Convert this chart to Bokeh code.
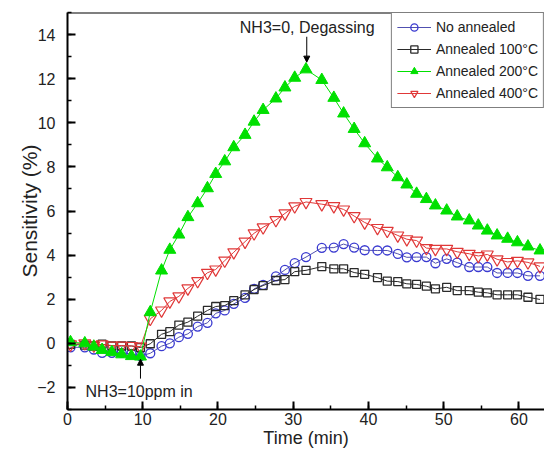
from bokeh.plotting import figure
from bokeh.models import (Range1d, SingleIntervalTicker, Legend, LegendItem, Label,
                          Arrow, NormalHead, Span)
from bokeh.embed import file_html
from bokeh.resources import INLINE

# ---- data ----
time = [0.4, 2.3, 3.5, 4.6, 5.9, 7.2, 8.5, 9.7, 11.0, 12.5, 13.6, 14.8, 16.0, 17.3,
        18.6, 19.7, 20.9, 22.1, 23.6, 24.8, 26.0, 27.7, 28.9, 30.2, 31.7, 33.8, 35.4,
        36.7, 38.1, 39.5, 41.2, 42.5, 43.9, 45.1, 46.4, 47.7, 48.9, 50.4, 51.8, 53.4,
        54.6, 55.8, 57.1, 58.5, 59.8, 61.2, 62.8]
no_annealed = [-0.18, -0.18, -0.28, -0.43, -0.43, -0.43, -0.48, -0.58, -0.45, -0.13,
               0.0, 0.28, 0.43, 0.76, 0.93, 1.36, 1.49, 1.79, 2.06, 2.47, 2.65, 3.04,
               3.33, 3.64, 3.91, 4.33, 4.34, 4.50, 4.34, 4.22, 4.21, 4.21, 4.06, 3.90,
               3.91, 3.91, 3.63, 3.83, 3.66, 3.46, 3.46, 3.46, 3.19, 3.19, 3.19, 3.06, 3.06]
annealed_100 = [-0.05, -0.08, -0.12, -0.04, -0.12, -0.12, -0.12, -0.19, -0.02, 0.41,
                0.53, 0.83, 0.96, 1.23, 1.49, 1.67, 1.71, 1.94, 2.20, 2.44, 2.62, 2.85,
                2.89, 3.25, 3.31, 3.48, 3.38, 3.38, 3.21, 3.13, 2.98, 2.82, 2.80, 2.70,
                2.67, 2.59, 2.47, 2.54, 2.39, 2.39, 2.32, 2.29, 2.20, 2.20, 2.20, 2.09, 1.99]
annealed_200 = [0.05, 0.0, -0.15, -0.3, -0.4, -0.5, -0.58, -0.6, 1.41, 3.30, 4.24,
                4.93, 5.72, 6.35, 7.03, 7.68, 8.25, 8.89, 9.45, 10.05, 10.58, 11.10,
                11.60, 12.04, 12.42, 11.94, 11.13, 10.42, 9.72, 9.07, 8.38, 7.98, 7.53,
                7.20, 6.78, 6.54, 6.25, 6.02, 5.75, 5.57, 5.34, 5.11, 4.89, 4.74, 4.58,
                4.39, 4.21]
annealed_400 = [-0.05, 0.0, -0.1, -0.05, -0.1, -0.1, -0.12, -0.15, 1.11, 1.49, 1.90,
                2.13, 2.49, 2.82, 3.20, 3.35, 3.75, 4.13, 4.61, 4.99, 5.26, 5.59, 5.89,
                6.21, 6.41, 6.31, 6.22, 6.07, 5.77, 5.48, 5.23, 5.10, 4.89, 4.72, 4.66,
                4.32, 4.28, 4.28, 4.15, 4.06, 3.96, 4.03, 3.81, 3.69, 3.74, 3.67, 3.49]
series_names = ["No annealed", "Annealed 100°C", "Annealed 200°C", "Annealed 400°C"]

FONT = "Liberation Sans"
W, H = 544, 453

p = figure(width=W, height=H, output_backend="svg", toolbar_location=None,
           x_range=Range1d(0, 63.4), y_range=Range1d(-3, 15),
           min_border_left=67, min_border_right=0, min_border_top=12, min_border_bottom=44)
p.outline_line_color = None
p.xgrid.visible = False
p.ygrid.visible = False
p.background_fill_color = "white"
p.border_fill_color = "white"

p.xaxis.ticker = SingleIntervalTicker(interval=10, num_minor_ticks=2)
p.yaxis.ticker = SingleIntervalTicker(interval=2, num_minor_ticks=2)
for ax in (p.xaxis[0], p.yaxis[0]):
    ax.axis_line_width = 2
    ax.axis_line_color = "black"
    ax.major_tick_in = 8
    ax.major_tick_out = 0
    ax.minor_tick_in = 4
    ax.minor_tick_out = 0
    ax.major_tick_line_width = 2
    ax.minor_tick_line_width = 1.5
    ax.major_label_text_font = FONT
    ax.major_label_text_font_size = "16px"
    ax.major_label_text_color = "#222222"
    ax.axis_label_text_font = FONT
    ax.axis_label_text_font_style = "normal"
    ax.axis_label_text_color = "#222222"
p.xaxis.major_label_standoff = 3
p.xaxis.axis_label = "Time (min)"
p.xaxis.axis_label_text_font_size = "18px"
p.xaxis.axis_label_standoff = 0
p.yaxis.major_label_standoff = 12
p.yaxis.axis_label = "Sensitivity (%)"
p.yaxis.axis_label_text_font_size = "21px"
p.yaxis.axis_label_standoff = -7

p.add_layout(Span(location=15, dimension="width", line_color="black", line_width=2))

blue = "#3a3ad0"
dark = "#2a2a2a"
green = "#00e000"
red = "#e03838"

l1 = p.line(time, no_annealed, line_color="#5050b0", line_width=1)
m1 = p.scatter(time, no_annealed, marker="circle", size=9, fill_color=None,
               line_color=blue, line_width=1.3)
l2 = p.line(time, annealed_100, line_color=dark, line_width=1)
m2 = p.scatter(time, annealed_100, marker="square", size=8, fill_color=None,
               line_color=dark, line_width=1.3)
l4 = p.line(time, annealed_400, line_color=red, line_width=1)
m4 = p.scatter(time, annealed_400, marker="inverted_triangle", size=12, fill_color=None,
               line_color=red, line_width=1.2)
l3 = p.line(time, annealed_200, line_color=green, line_width=1)
m3 = p.scatter(time, annealed_200, marker="triangle", size=12, fill_color=green,
               line_color=green, line_width=1)

legend = Legend(items=[
    LegendItem(label=series_names[0], renderers=[l1, m1]),
    LegendItem(label=series_names[1], renderers=[l2, m2]),
    LegendItem(label=series_names[2], renderers=[l3, m3]),
    LegendItem(label=series_names[3], renderers=[l4, m4]),
], location="top_right")
legend.margin = 0
legend.padding = 5
legend.spacing = 4
legend.glyph_width = 34
legend.glyph_height = 18
legend.label_height = 18
legend.label_standoff = 5
legend.label_text_font = FONT
legend.label_text_font_size = "14px"
legend.label_text_color = "#222222"
legend.border_line_color = "black"
legend.border_line_width = 1.5
legend.background_fill_color = "white"
legend.background_fill_alpha = 1
p.add_layout(legend)

# annotations
p.add_layout(Label(x=22.9, y=14.34, text="NH3=0, Degassing", text_font=FONT,
                   text_font_size="16px", text_baseline="middle", text_align="left",
                   text_color="#222222"))
p.add_layout(Arrow(end=NormalHead(size=6, fill_color="black", line_color="black"),
                   x_start=31.8, y_start=13.9, x_end=31.8, y_end=12.75,
                   line_color="black", line_width=1))
p.add_layout(Label(x=2.4, y=-2.17, text="NH3=10ppm in", text_font=FONT,
                   text_font_size="16px", text_baseline="middle", text_align="left",
                   text_color="#222222"))
p.add_layout(Arrow(end=NormalHead(size=6, fill_color="black", line_color="black"),
                   x_start=9.7, y_start=-1.6, x_end=9.7, y_end=-0.72,
                   line_color="black", line_width=1))

open("out.html", "w").write(file_html(p, INLINE))
